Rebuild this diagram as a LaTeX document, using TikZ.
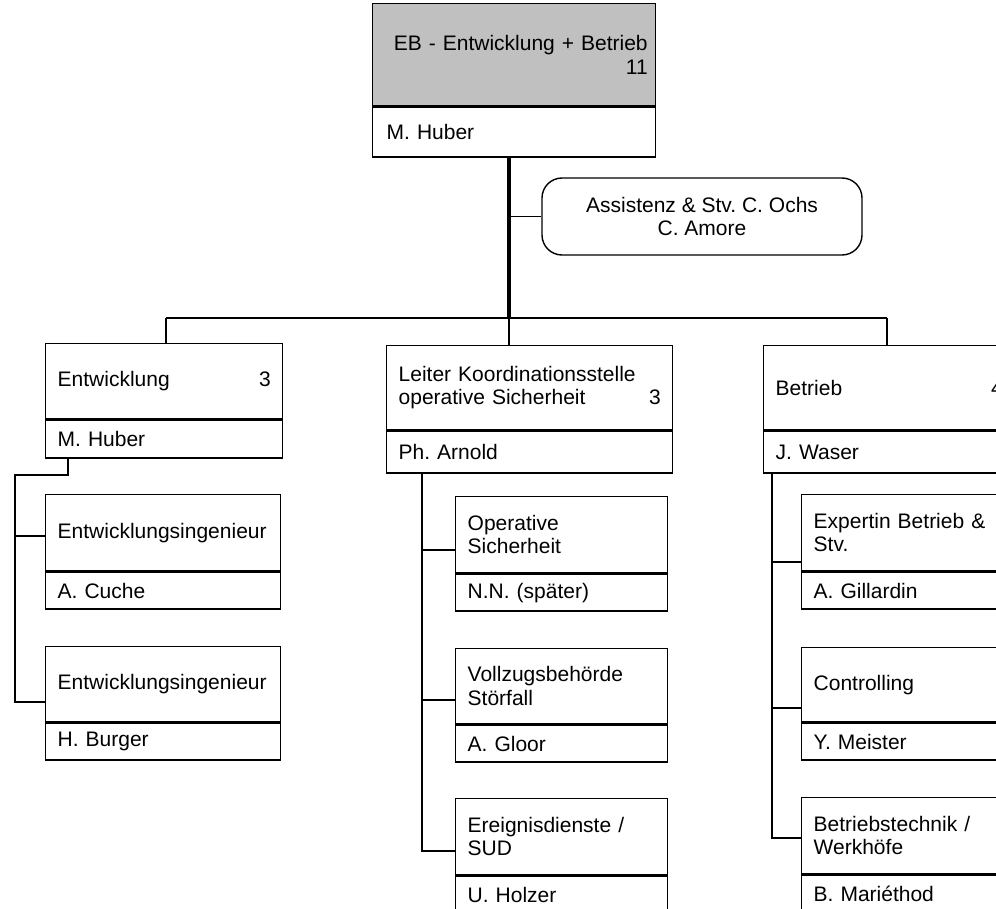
\documentclass[tikz,border=0pt]{standalone}
\usepackage{fontspec}
\setmainfont{Liberation Sans}
\definecolor{hdr}{RGB}{192,192,192}
\tikzset{
  box/.style={draw=black, line width=1.4pt, anchor=north west, inner xsep=12pt, inner ysep=0pt,
    align=left, font=\fontsize{21}{23.5}\selectfont\frenchspacing},
  conn/.style={draw=black, line width=1.4pt},
  trunk/.style={draw=black, line width=4pt},
  asst/.style={draw=black, line width=1.4pt, rounded corners=20pt, align=center,
    minimum width=320pt, minimum height=77pt, inner sep=0pt, font=\fontsize{21}{23.5}\selectfont\frenchspacing}
}
% #1 name, #2 x, #3 y top, #4 text width, #5 title height, #6 name height, #7 title, #8 person
\newcommand\obox[8]{%
  \node[box, minimum height=#5pt, text width=#4pt] (#1) at (#2,#3) {#7};
  \node[box, minimum height=#6pt, text width=#4pt] (#1n) at (#1.south west) {#8};
}
\begin{document}
\frenchspacing
\begin{tikzpicture}[x=1pt,y=-1pt]
\useasboundingbox (0,0) rectangle (996,909);
\clip (0,0) rectangle (996,909);

% top box
\node[box, fill=hdr, align=right, inner xsep=8pt, minimum height=102pt, text width=267pt] (top) at (372,3)
  {EB - Entwicklung + Betrieb\\11};
\node[box, inner xsep=14pt, minimum height=50pt, text width=255pt] (topn) at (top.south west) {M. Huber};

% assistant
\node[asst] (as) at (702,216.5) {Assistenz \& Stv. C. Ochs\\C. Amore};

% second level
\obox{ent}{45}{343}{213}{75}{38}{Entwicklung\hfill 3}{M. Huber}
\obox{mid}{386}{345}{262}{84}{42}{Leiter Koordinationsstelle\\operative Sicherheit\hfill 3}{Ph. Arnold}
\obox{bet}{763}{345}{227}{84}{42}{Betrieb\hfill 4}{J. Waser}

% third level left
\obox{la1}{45}{494}{211}{76}{37}{Entwicklungsingenieur}{A. Cuche}
\obox{la2}{45}{646}{211}{75}{37}{Entwicklungsingenieur}{H. Burger}
% third level middle
\obox{mb1}{455}{496}{188}{76}{37}{Operative\\Sicherheit}{N.N. (später)}
\obox{mb2}{455}{648}{188}{75}{37}{Vollzugsbehörde\\Störfall}{A. Gloor}
\obox{mb3}{455}{798}{188}{76}{38}{Ereignisdienste /\\SUD}{U. Holzer}
% third level right
\obox{rb1}{801}{494}{188}{76}{37}{Expertin Betrieb \&\\Stv.}{A. Gillardin}
\obox{rb2}{801}{647}{188}{74}{37}{Controlling}{Y. Meister}
\obox{rb3}{801}{797}{188}{76}{38}{Betriebstechnik /\\Werkhöfe}{B. Mariéthod}

% trunk and bus
\coordinate (j) at (509,318);
\coordinate (bl) at (166,318);
\coordinate (br) at (887,318);
\draw[trunk] (topn.south -| j) -- (j);
\draw[conn] (j |- as.west) -- (as.west);
\draw[conn] (bl) -- (br);
\draw[conn] (bl) -- (ent.north -| bl);
\draw[conn] (j) -- (mid.north -| j);
\draw[conn] (br) -- (bet.north -| br);

% left branches
\coordinate (lc) at (68,475);
\coordinate (lx) at (15,475);
\coordinate (la) at (15,536);
\coordinate (lb) at (15,702);
\draw[conn] (entn.south -| lc) -- (lc) -- (lx) -- (lb) -- (lb -| la2.west);
\draw[conn] (la) -- (la -| la1.west);

% middle branches
\coordinate (ma) at (422,550);
\coordinate (mb) at (422,700);
\coordinate (mc) at (422,851);
\draw[conn] (midn.south -| ma) -- (mc) -- (mc -| mb3.west);
\draw[conn] (ma) -- (ma -| mb1.west);
\draw[conn] (mb) -- (mb -| mb2.west);

% right branches
\coordinate (ra) at (772,562);
\coordinate (rb) at (772,708);
\coordinate (rc) at (772,838);
\draw[conn] (betn.south -| ra) -- (rc) -- (rc -| rb3.west);
\draw[conn] (ra) -- (ra -| rb1.west);
\draw[conn] (rb) -- (rb -| rb2.west);
\end{tikzpicture}
\end{document}
